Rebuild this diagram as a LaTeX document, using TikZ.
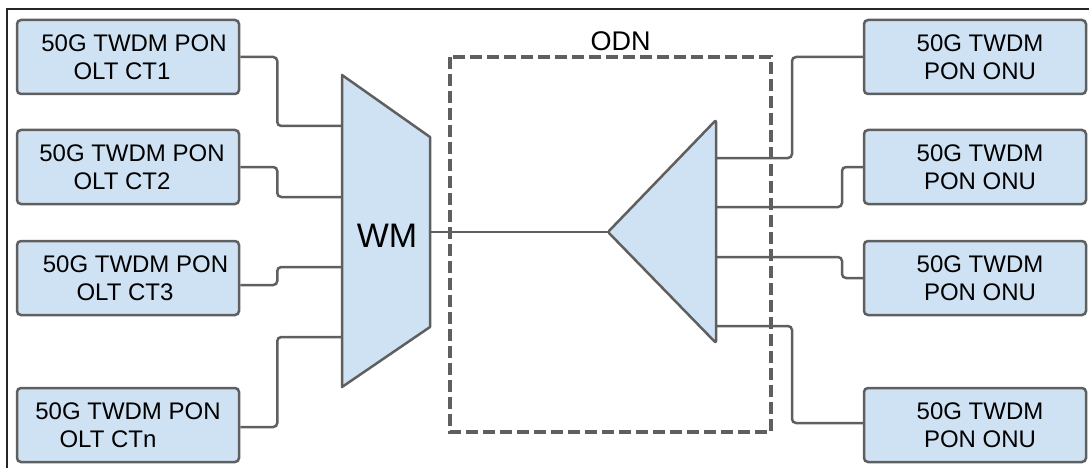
\documentclass[tikz,border=0pt]{standalone}
\usepackage{fontspec}
\setmainfont{Liberation Sans}
\definecolor{boxblue}{HTML}{CFE2F3}
\definecolor{lineg}{HTML}{5F5F5F}
\tikzset{
  ctbox/.style={draw=lineg, fill=boxblue, line width=2.5pt, rounded corners=4pt,
    minimum width=222pt, minimum height=74pt, inner sep=0pt, align=center,
    font=\fontsize{24}{28.5}\selectfont},
  conn/.style={draw=lineg, line width=2.5pt, rounded corners=4pt},
  shapeline/.style={draw=lineg, fill=boxblue, line width=2.5pt, line join=round},
}
\begin{document}
\begin{tikzpicture}[x=1pt, y=-1pt]
\useasboundingbox (0,0) rectangle (1089,468);
% outer frame
\draw[line width=1.2pt, black!85] (7,9) rectangle (1110,490);

% left boxes
\node[ctbox] (b1) at (128,57) {\hspace*{12pt}50G TWDM PON\\OLT CT1\hspace*{12pt}};
\node[ctbox] (b2) at (128,167) {\hspace*{8pt}50G TWDM PON\\OLT CT2\hspace*{12pt}};
\node[ctbox] (b3) at (128,278) {\hspace*{15pt}50G TWDM PON\\OLT CT3\hspace*{6pt}};
\node[ctbox] (b4) at (128,425) {50G TWDM PON\\OLT CTn\hspace*{40pt}};

% right boxes
\node[ctbox] (r1) at (975,57) {\hspace*{10pt}50G TWDM\\\hspace*{10pt}PON ONU};
\node[ctbox] (r2) at (975,167) {\hspace*{10pt}50G TWDM\\\hspace*{10pt}PON ONU};
\node[ctbox] (r3) at (975,278) {\hspace*{10pt}50G TWDM\\\hspace*{10pt}PON ONU};
\node[ctbox] (r4) at (975,425) {\hspace*{10pt}50G TWDM\\\hspace*{10pt}PON ONU};

% ODN dashed region
\draw[draw=lineg, line width=4pt, dash pattern=on 12pt off 5pt] (450,57) rectangle (771,432);
\node[font=\fontsize{27}{30}\selectfont, inner sep=0pt] (odn) at (620.5,41) {ODN};

% WM trapezoid
\coordinate (wtl) at (342,75);
\coordinate (wtr) at (430,137);
\coordinate (wbr) at (430,327);
\coordinate (wbl) at (342,387);
\path[shapeline] (wtl) -- (wtr) -- (wbr) -- (wbl) -- cycle;
\node[font=\fontsize{34}{36}\selectfont, inner sep=0pt] (wm) at (387,236) {WM};
\coordinate (wi1) at (342,126);
\coordinate (wi2) at (342,197);
\coordinate (wi3) at (342,267);
\coordinate (wi4) at (342,337);
\coordinate (wo) at (430,232);

% splitter
\coordinate (sp) at (608,232);
\coordinate (st) at (716,120);
\coordinate (sb) at (716,343);
\path[shapeline, rounded corners=2pt] (sp) -- (st) -- (sb) -- cycle;
\coordinate (so1) at (716,158);
\coordinate (so2) at (716,207);
\coordinate (so3) at (716,257);
\coordinate (so4) at (716,326);

% left connectors
\draw[conn] (b1.east) -- ++(37,0) |- (wi1);
\draw[conn] (b2.east) -- ++(37,0) |- (wi2);
\draw[conn] ([yshift=-7pt]b3.east) -- ++(37,0) |- (wi3);
\draw[conn] ([yshift=-2pt]b4.east) -- ++(37,0) |- (wi4);

% trunk
\draw[conn] (wo) -- (sp);

% right connectors
\draw[conn] (so1) -- ++(76,0) |- (r1.west);
\draw[conn] (so2) -- ++(126,0) |- (r2.west);
\draw[conn] (so3) -- ++(126,0) |- (r3.west);
\draw[conn] (so4) -- ++(76,0) |- ([yshift=2pt]r4.west);
\end{tikzpicture}
\end{document}
